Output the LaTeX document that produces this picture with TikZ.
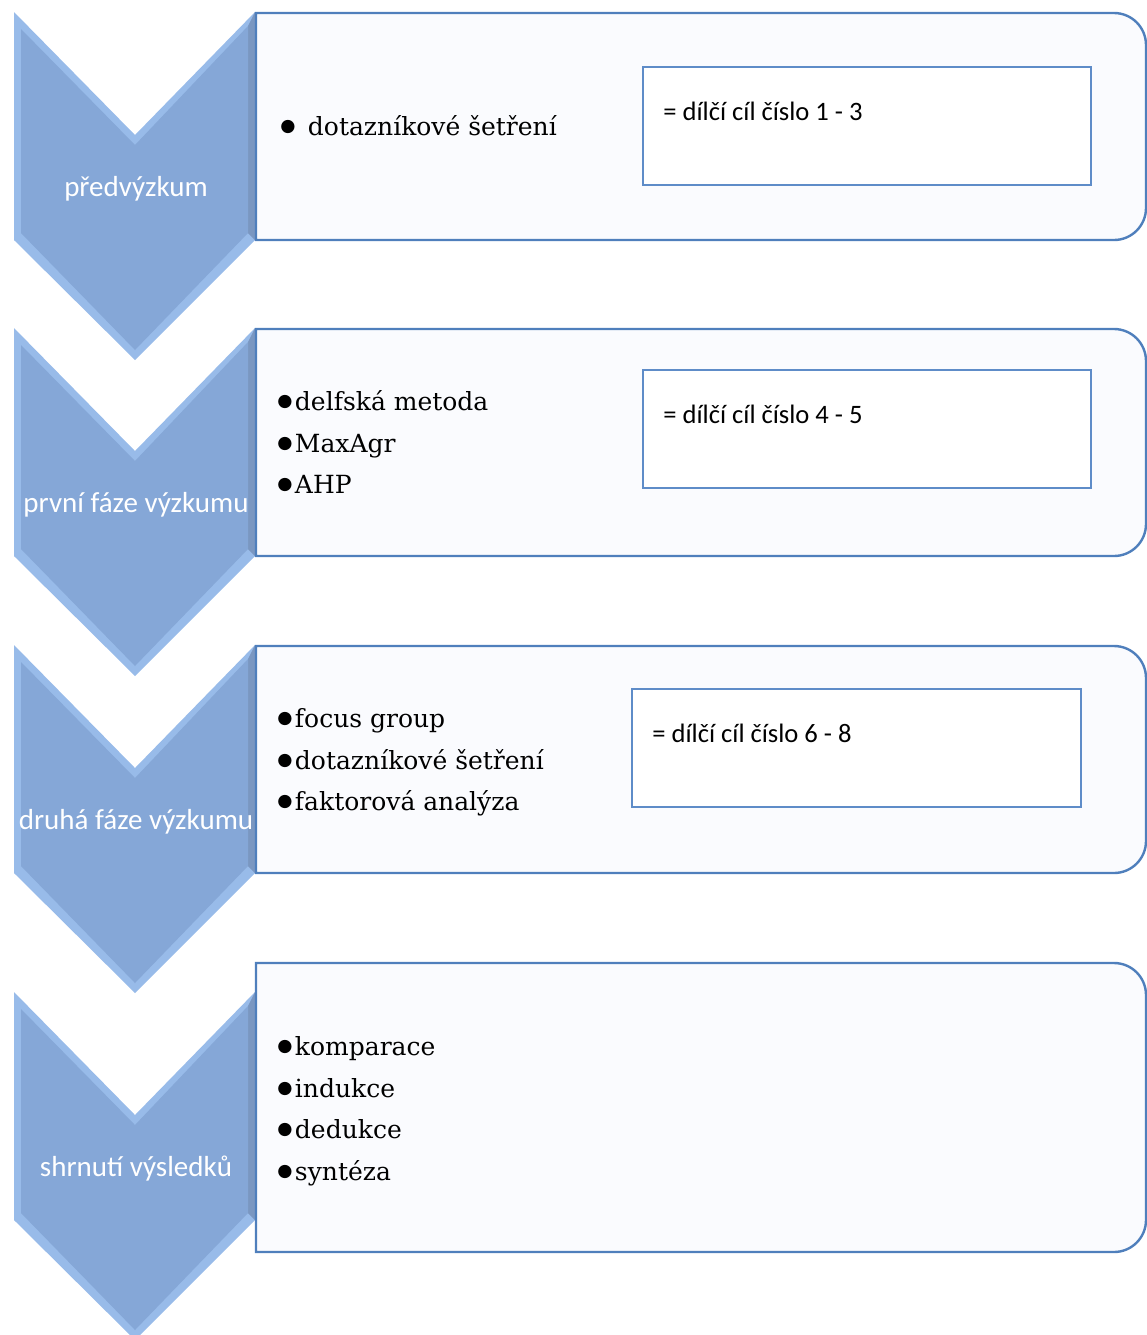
\documentclass[tikz,border=0pt]{standalone}
\usepackage{fontspec}
\setmainfont{DejaVu Serif}
\newfontfamily\labelfont{Carlito}
\newfontfamily\symfont{DejaVu Sans}
\newcommand\itembullet{\raisebox{1.9pt}{\symfont\fontsize{8.7}{9}\selectfont ●}\hspace{1.2pt}}
\definecolor{chevmain}{HTML}{85A7D7}
\definecolor{chevlight}{HTML}{98BBE9}
\definecolor{chevdark}{HTML}{7A97C1}
\definecolor{boxblue}{HTML}{4F7FBC}
\definecolor{goalblue}{HTML}{5E8CC8}
\definecolor{boxfill}{HTML}{FAFBFE}
\begin{document}
\begin{tikzpicture}[x=0.5pt,y=-0.5pt,
  chev/.style={fill=chevlight},
  chevin/.style={fill=chevmain},
  chevside/.style={fill=chevdark},
  stage/.style={anchor=base,inner sep=0,text=white,font=\labelfont\fontsize{14.5}{17}\selectfont},
  phase/.style={draw=boxblue,line width=1.2pt,fill=boxfill},
  goal/.style={draw=goalblue,line width=1pt,fill=white},
  goaltext/.style={anchor=base west,inner sep=0,font=\labelfont\fontsize{13.3}{16}\selectfont},
  item/.style={anchor=base west,inner sep=0,font=\fontsize{12.5}{15}\selectfont}]
\useasboundingbox (0,0) rectangle (1147,1335);
% Winkelpfeile links (heller Rand, rechte Kante dunkler, innen Flaeche)
\fill[chev] (14,12) -- (135,135) -- (255,12) -- (255,240) -- (135,360) -- (14,240) -- cycle;
\fill[chevside] (255,12) -- (255,240) -- (248,233) -- (248,26) -- cycle;
\fill[chevin] (21,29) -- (135,145) -- (248,26) -- (248,233) -- (135,350) -- (21,233) -- cycle;
\fill[chev] (14,328) -- (135,451) -- (255,328) -- (255,556) -- (135,676) -- (14,556) -- cycle;
\fill[chevside] (255,328) -- (255,556) -- (248,549) -- (248,342) -- cycle;
\fill[chevin] (21,345) -- (135,461) -- (248,342) -- (248,549) -- (135,666) -- (21,549) -- cycle;
\fill[chev] (14,645) -- (135,768) -- (255,645) -- (255,873) -- (135,993) -- (14,873) -- cycle;
\fill[chevside] (255,645) -- (255,873) -- (248,866) -- (248,659) -- cycle;
\fill[chevin] (21,662) -- (135,778) -- (248,659) -- (248,866) -- (135,983) -- (21,866) -- cycle;
\fill[chev] (14,992) -- (135,1115) -- (255,992) -- (255,1220) -- (135,1340) -- (14,1220) -- cycle;
\fill[chevside] (255,992) -- (255,1220) -- (248,1213) -- (248,1006) -- cycle;
\fill[chevin] (21,1009) -- (135,1125) -- (248,1006) -- (248,1213) -- (135,1330) -- (21,1213) -- cycle;
% Phasen-Kaesten, rechts abgerundet
\draw[phase] (256,13) -- (1114,13) arc[start angle=-90,end angle=0,radius=32] -- (1146,208)
  arc[start angle=0,end angle=90,radius=32] -- (256,240) -- cycle;
\draw[phase] (256,329) -- (1114,329) arc[start angle=-90,end angle=0,radius=32] -- (1146,524)
  arc[start angle=0,end angle=90,radius=32] -- (256,556) -- cycle;
\draw[phase] (256,646) -- (1114,646) arc[start angle=-90,end angle=0,radius=32] -- (1146,841)
  arc[start angle=0,end angle=90,radius=32] -- (256,873) -- cycle;
\draw[phase] (256,963) -- (1114,963) arc[start angle=-90,end angle=0,radius=32] -- (1146,1220)
  arc[start angle=0,end angle=90,radius=32] -- (256,1252) -- cycle;
% Teilziele
\draw[goal] (643,67) rectangle (1091,185);
\draw[goal] (643,370) rectangle (1091,488);
\draw[goal] (632,689) rectangle (1081,807);
\node[goaltext] (g1) at (663,120) {= dílčí cíl číslo 1 - 3};
\node[goaltext] (g2) at (663,423) {= dílčí cíl číslo 4 - 5};
\node[goaltext] (g3) at (652,742) {= dílčí cíl číslo 6 - 8};
% Beschriftung der Pfeile
\node[stage] (s1) at (136,196) {předvýzkum};
\node[stage] (s2) at (136,512) {první fáze výzkumu};
\node[stage] (s3) at (136,829) {druhá fáze výzkumu};
\node[stage] (s4) at (136,1176) {shrnutí výsledků};
% Methoden
\node[item] (m11) at (280,135) {\itembullet\hspace{5pt}dotazníkové šetření};
\node[item] (m21) at (277,410) {\itembullet delfská metoda};
\node[item] (m22) at (277,452) {\itembullet MaxAgr};
\node[item] (m23) at (277,493) {\itembullet AHP};
\node[item] (m31) at (277,727) {\itembullet focus group};
\node[item] (m32) at (277,769) {\itembullet dotazníkové šetření};
\node[item] (m33) at (277,810) {\itembullet faktorová analýza};
\node[item] (m41) at (277,1055) {\itembullet komparace};
\node[item] (m42) at (277,1097) {\itembullet indukce};
\node[item] (m43) at (277,1138) {\itembullet dedukce};
\node[item] (m44) at (277,1180) {\itembullet syntéza};
\end{tikzpicture}
\end{document}
